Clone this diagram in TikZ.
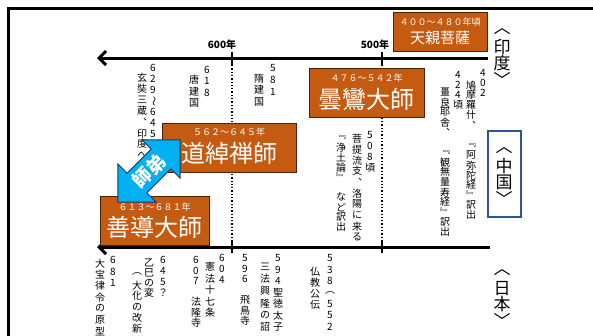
\documentclass[tikz,border=0pt]{standalone}
\usepackage{fontspec}
\setmainfont{Noto Sans CJK JP}
\usepackage{graphicx}
\usetikzlibrary{arrows.meta}
\definecolor{ofill}{HTML}{C55A11}
\definecolor{obord}{HTML}{4A2208}
\definecolor{afill}{HTML}{00B0F0}
\definecolor{abord}{HTML}{1F3864}
\definecolor{cbord}{HTML}{2F5597}
\ExplSyntaxOn
\dim_new:N \l_vt_step_dim
\NewDocumentCommand\vt{O{11pt}m}{
  \dim_set:Nn \l_vt_step_dim {#1}
  \vbox{\offinterlineskip
    \tl_map_inline:nn {#2}{\hbox to 1.2em{\hss\vbox to \l_vt_step_dim{\vss\hbox{##1}\vss}\hss}}}
}
\ExplSyntaxOff
\newcommand\vtil{{\rotatebox{-90}{～}}}
\begin{document}
\begin{tikzpicture}[x=1pt,y=-1pt,
  vcol/.style={inner sep=0pt, anchor=north, font=\fontsize{10}{10}\selectfont},
  lab/.style={inner sep=0pt, anchor=north, font=\fontsize{17}{17}\selectfont},
  obox/.style={draw=obord, fill=ofill, line width=0.8pt, inner sep=0pt, anchor=north west},
  yeartxt/.style={text=white, inner sep=0pt, font=\fontsize{9}{9}\selectfont},
  nametxt/.style={text=white, inner sep=0pt, font=\fontsize{24}{24}\selectfont},
  tline/.style={line width=3pt, -{Straight Barb[length=7pt,width=14pt]}},
  tickline/.style={line width=2pt},
  dotline/.style={line width=1.3pt, dotted},
  yrlab/.style={inner sep=0pt, font=\bfseries\fontsize{10}{10}\selectfont},
]
\useasboundingbox (0,0) rectangle (593,335);
% frame
\draw[line width=3pt] (8,340) -- (8,8) -- (600,8);

% coordinates
\coordinate (tTr) at (488,58); \coordinate (tTl) at (97,58);
\coordinate (tBr) at (490,247); \coordinate (tBl) at (97,247);
\coordinate (k6a) at (232,52); \coordinate (k6b) at (232,65);
\coordinate (k5a) at (382,52); \coordinate (k5b) at (382,65);
\coordinate (j6a) at (232,241); \coordinate (j6b) at (232,253);
\coordinate (j5a) at (382,241); \coordinate (j5b) at (382,253);

% dotted guides
\draw[dotline] (k6b) -- (j6a);
\draw[dotline] (k5b) -- (j5a);

% timelines
\draw[tline] (tTr) -- (tTl);
\draw[tline] (tBr) -- (tBl);
\draw[tickline] (k6a) -- (k6b);
\draw[tickline] (k5a) -- (k5b);
\draw[tickline] (j6a) -- (j6b);
\draw[tickline] (j5a) -- (j5b);

\node[yrlab] (y600) at (222,45) {600年};
\node[yrlab] (y500) at (375,45) {500年};

% region labels
\node[lab] (lIndia) at (502,23) {\vt[16pt]{︿印度﹀}};
\draw[cbord, line width=1.5pt] (488,131) rectangle (521,217);
\node[lab] (lChina) at (504,142) {\vt[16pt]{︿中国﹀}};
\node[lab] (lJapan) at (502,264) {\vt[16pt]{︿日本﹀}};

% upper vertical texts
\node[vcol] (d629) at (153,62.5) {\vt[11pt]{629\vtil645}};
\node[vcol] (t629) at (142,72.5) {\vt[11pt]{玄奘三蔵︑印度へ}};
\node[vcol] (d618) at (207,63.5) {\vt[11.5pt]{618}};
\node[vcol] (t618) at (194,74) {\vt[11.5pt]{唐建国}};
\node[vcol] (d581) at (273,62.5) {\vt[11.5pt]{581}};
\node[vcol] (t581) at (259,72.5) {\vt[11.5pt]{隋建国}};
\node[vcol] (d402) at (483,68) {\vt[10pt]{402}};
\node[vcol] (t402) at (471,80) {\vt[10pt]{鳩摩羅什︑　﹃阿弥陀経﹄訳出}};
\node[vcol] (d424) at (458,70) {\vt[10pt]{424頃}};
\node[vcol] (t424) at (445,87) {\vt[10pt]{畺良耶舎︑　﹃観無量寿経﹄訳出}};
\node[vcol] (d508) at (370,129.5) {\vt[11pt]{508頃}};
\node[vcol] (t508) at (357,132.5) {\vt[11pt]{菩提流支︑洛陽に来る}};
\node[vcol] (u508) at (341,132) {\vt[10pt]{﹃浄土論﹄　など訳出}};

% lower vertical texts
\node[vcol] (d681) at (113,254) {\vt[11.5pt]{681}};
\node[vcol] (t681) at (100,257.5) {\vt[11.3pt]{大宝律令の原型}};
\node[vcol] (d645) at (163,254.5) {\vt[11pt]{645？}};
\node[vcol] (t645) at (149,258) {\vt[10pt]{乙巳の変}};
\node[vcol] (u645) at (137,268.5) {\vt[11pt]{︵大化の改新︶}};
\node[vcol] (d607) at (196,254.5) {\vt[10.5pt]{607　法隆寺}};
\node[vcol] (d604) at (222,252.5) {\vt[11pt]{604}};
\node[vcol] (t604) at (210,261) {\vt[11.5pt]{憲法十七条}};
\node[vcol] (d596) at (245,252.5) {\vt[10.5pt]{596　飛鳥寺}};
\node[vcol] (d594) at (278,252) {\vt[11.5pt]{594聖徳太子}};
\node[vcol] (t594) at (265,261) {\vt[12pt]{三法興隆の詔}};
\node[vcol] (d538) at (330,252) {\vt[11.5pt]{538︵552}};
\node[vcol] (t538) at (315,266.5) {\vt[11pt]{仏教公伝}};

% orange boxes
\node[obox, minimum width=94pt, minimum height=39pt] (b1) at (393,12) {};
\node[yeartxt] (b1y) at (440,22) {４００～４８０年頃};
\node[nametxt, font=\fontsize{15}{15}\selectfont] (b1n) at (440,38) {天親菩薩};

\node[obox, minimum width=115pt, minimum height=49pt] (b2) at (309,68) {};
\node[yeartxt] (b2y) at (366.5,78) {４７６～５４２年};
\node[nametxt] (b2n) at (366.5,99) {曇鸞大師};

\node[obox, minimum width=134pt, minimum height=49pt] (b3) at (162,123) {};
\node[yeartxt] (b3y) at (229,132) {５６２～６４５年};
\node[nametxt] (b3n) at (229,153) {道綽禅師};

\node[obox, minimum width=109pt, minimum height=49pt] (b4) at (100,196) {};
\node[yeartxt] (b4y) at (154.5,207) {６１３～６８１年};
\node[nametxt] (b4n) at (154.5,227) {善導大師};

% double arrow
\begin{scope}[shift={(149,171)}, rotate=45]
\filldraw[fill=afill, draw=abord, line width=0.8pt]
  (44,0) -- (17,27) -- (17,14) -- (-17,14) -- (-17,27) -- (-44,0)
  -- (-17,-27) -- (-17,-14) -- (17,-14) -- (17,-27) -- cycle;
\end{scope}
\node[rotate=45, text=white, inner sep=0pt, font=\bfseries\fontsize{19}{19}\selectfont] (shitei) at (149,171) {師弟};
\end{tikzpicture}
\end{document}
